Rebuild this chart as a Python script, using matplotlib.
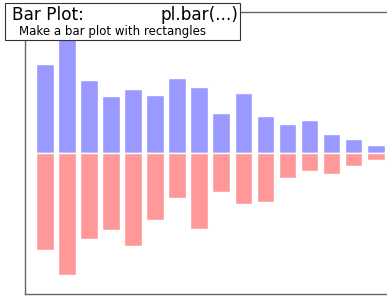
import numpy as np
import matplotlib
matplotlib.use("Agg")
import matplotlib.pyplot as plt
from matplotlib.patches import Rectangle

# bar heights
up = [0.79, 1.05, 0.65, 0.505, 0.565, 0.512, 0.662, 0.588,
      0.352, 0.535, 0.331, 0.26, 0.29, 0.168, 0.121, 0.074]
down = [0.86, 1.084, 0.762, 0.685, 0.827, 0.591, 0.399, 0.676,
        0.346, 0.455, 0.432, 0.224, 0.162, 0.189, 0.115, 0.062]
n = len(up)
X = np.arange(n)

fig = plt.figure(figsize=(3.87, 2.97), dpi=100)
ax = fig.add_axes([0.0646, 0.0101, 0.9404, 0.9495])

ax.bar(X, up, width=0.8, align='edge', facecolor='#9999ff', edgecolor='white')
ax.bar(X, [-v for v in down], width=0.8, align='edge', facecolor='#ff9999', edgecolor='white')

ax.set_xlim(-0.5, n)
ax.set_ylim(-1.25, 1.25)
ax.set_xticks([])
ax.set_yticks([])
for s in ax.spines.values():
    s.set_color('#666666')
    s.set_linewidth(1.0)
ax.spines['right'].set_visible(False)  # falls just outside the picture

# title box
fig.patches.append(Rectangle((5 / 387, 1 - 40 / 297), 235 / 387, 37 / 297,
                             transform=fig.transFigure, facecolor='white',
                             edgecolor='#333333', linewidth=0.8, zorder=5))
fig.text(12 / 387, 1 - 14.5 / 297, "Bar Plot:", fontsize=12.2, va='center',
         ha='left', zorder=6)
fig.text(238 / 387, 1 - 14.5 / 297, "pl.bar(...)", fontsize=12.2, va='center',
         ha='right', zorder=6)
fig.text(19 / 387, 1 - 31 / 297, "Make a bar plot with rectangles", fontsize=8.5,
         va='center', ha='left', zorder=6)

plt.savefig("out.png", dpi=100)
plt.close()
